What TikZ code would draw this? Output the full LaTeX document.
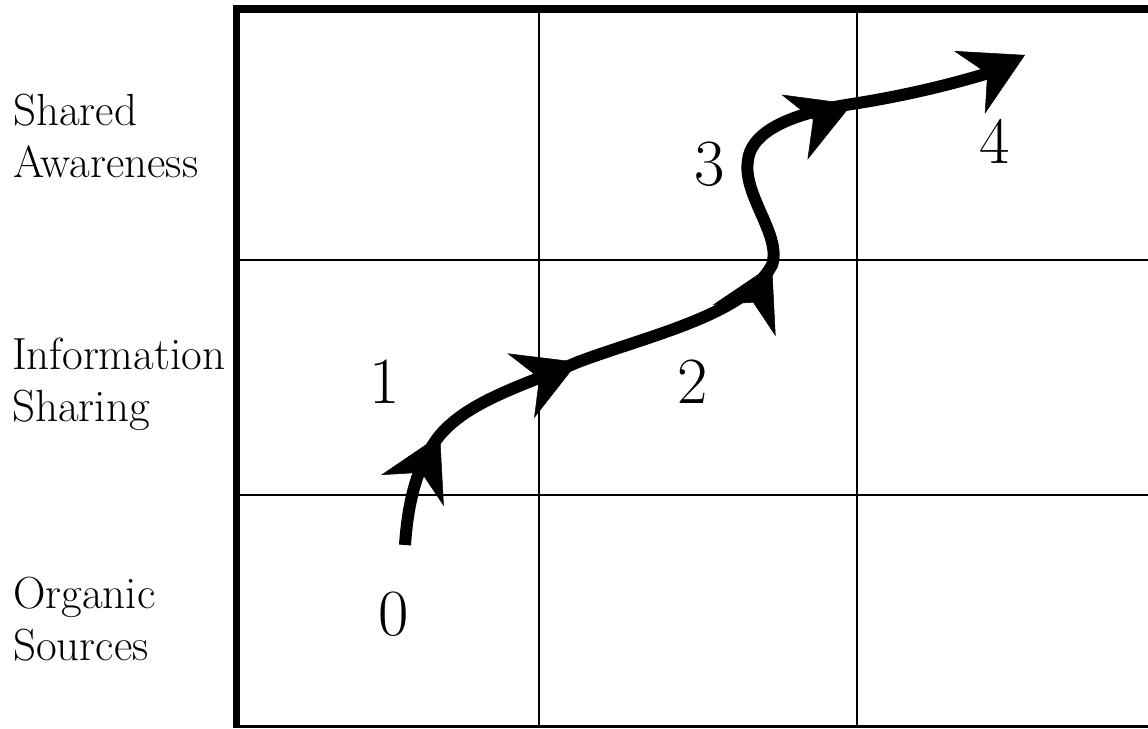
\documentclass[tikz,border=0pt]{standalone}
\usetikzlibrary{arrows.meta,calc}
\begin{document}
\begin{tikzpicture}[x=1pt,y=-1pt,
  gridthin/.style={line width=1.8pt,line cap=rect},
  gridthick/.style={line width=7.5pt},
  rowlabel/.style={anchor=base west,inner sep=0pt,align=left,font=\fontsize{45}{52}\selectfont},
  numlabel/.style={anchor=base,inner sep=0pt,font=\fontsize{66}{70}\selectfont},
  flowline/.style={line width=12pt},
  head/.style={line width=0.05pt,-{Stealth[length=62pt,width=70pt,inset=20pt,line width=0.5pt]}}]
\useasboundingbox (0,0) rectangle (1148,728);
% grid
\draw[gridthin] (539,9) -- (539,726);
\draw[gridthin] (857,9) -- (857,726);
\draw[gridthin] (236,260) -- (1148,260);
\draw[gridthin] (236,495) -- (1148,495);
\draw[line width=2.5pt] (236,726.5) -- (1148,726.5);
\draw[gridthick] (232.75,9) -- (1148,9);
\draw[gridthick] (236.5,5.25) -- (236.5,728);
% row labels (anchor on last line's baseline)
\node[rowlabel] (shared) at (13,177) {Shared\\Awareness};
\node[rowlabel] (info) at (12,421) {Information\\Sharing};
\node[rowlabel] (organic) at (13,660) {Organic\\Sources};
% numbers
\node[numlabel] (n0) at (394,635) {0};
\node[numlabel] (n1) at (385,403) {1};
\node[numlabel] (n2) at (693,403) {2};
\node[numlabel] (n3) at (710,185) {3};
\node[numlabel] (n4) at (995,163) {4};
% path points (tips) and arrow bases
\coordinate (p0) at (405,545);
\coordinate (t1) at (440,435);
\coordinate (t2) at (578,362);
\coordinate (t3) at (772,265);
\coordinate (m3) at (748,160);
\coordinate (t4) at (852,104);
\coordinate (pe) at (995,71);
\coordinate (t5) at (1025,55);
\coordinate (b1) at (411.5,492.5);
\coordinate (b2) at (522.5,385);
\coordinate (b3) at (742.5,324);
\coordinate (b4) at (793.5,127.5);
\coordinate (b5) at (961,86.5);
% continuous flow line
\draw[flowline] (p0) .. controls (408,500) and (418,462) .. (t1)
  .. controls (470,400) and (525,385) .. (t2)
  .. controls (650,335) and (745,315) .. (t3)
  .. controls (782,235) and (742,195) .. (m3)
  .. controls (752,128) and (800,112) .. (t4)
  .. controls (910,95) and (960,82) .. (pe);
% arrowheads
\draw[head] ($(b1)!0.6!(t1)$) -- (t1);
\draw[head] ($(b2)!0.6!(t2)$) -- (t2);
\draw[head] ($(b3)!0.6!(t3)$) -- (t3);
\draw[head] ($(b4)!0.6!(t4)$) -- (t4);
\draw[head] ($(b5)!0.6!(t5)$) -- (t5);
\end{tikzpicture}
\end{document}
